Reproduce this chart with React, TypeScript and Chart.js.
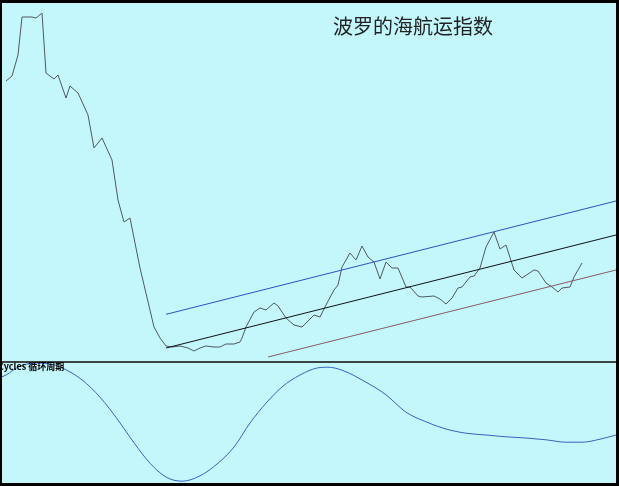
import React, { useEffect, useRef } from "react";
import { Chart, registerables } from "chart.js";

Chart.register(...registerables);

// Baltic index (weeks, index points)
const priceWeeks = [2, 5, 8, 10, 15, 17, 20, 22, 26, 28, 32, 34, 38, 43, 46, 50, 55, 58, 61, 64, 69, 76, 79, 82, 85, 89, 93, 96, 99, 102, 106, 109, 112, 116, 119, 120, 122, 126, 129, 132, 136, 138, 142, 146, 150, 152, 156, 159, 162, 166, 168, 170, 174, 177, 180, 183, 186, 189, 192, 195, 198, 202, 204, 208, 210, 216, 219, 222, 225, 228, 230, 234, 236, 239, 242, 246, 249, 252, 256, 260, 266, 268, 272, 275, 278, 280, 284, 286, 290];
const priceValues = [8400, 8550, 9180, 10320, 10320, 10290, 10440, 8640, 8460, 8580, 7890, 8250, 8040, 7380, 6390, 6690, 6030, 4830, 4170, 4290, 2790, 1020, 690, 450, 420, 450, 390, 300, 390, 450, 420, 420, 510, 510, 570, 690, 1020, 1470, 1590, 1530, 1740, 1650, 1290, 1080, 1020, 1140, 1380, 1320, 1680, 2130, 2280, 2820, 3240, 3030, 3450, 3120, 2970, 2460, 2970, 2790, 2790, 2220, 2220, 1950, 1920, 1950, 1860, 1710, 1890, 2190, 2220, 2520, 2550, 2790, 3420, 3870, 3360, 3480, 2730, 2490, 2730, 2700, 2340, 2220, 2070, 2190, 2220, 2520, 2940];

// Trend channel (start/end week, value)
const channelWeeks = [82, 307];
const upperChannel = [1400, 4800];
const middleChannel = [390, 3780];
const lowerWeeks = [133, 307];
const lowerChannel = [120, 2730];

// Cycles oscillator
const cycleWeeks = [0, 2, 9, 18, 26, 30, 40, 49, 58, 66, 74, 82, 90, 99, 108, 116, 124, 132, 140, 149, 158, 163, 170, 182, 192, 202, 212, 222, 232, 242, 252, 262, 272, 282, 290, 299, 307];
const cycleValues = [77, 80, 95, 100, 97, 92, 72, 43, 5, -33, -67, -90, -97, -88, -67, -40, 0, 33, 60, 80, 92, 93, 88, 68, 47, 18, 2, -10, -17, -20, -23, -25, -28, -32, -32, -27, -20];

const titleText = "波罗的海航运指数";
const cycleLabel = "Cycles 循环周期";

const W = 614;
const TOP_H = 358;
const BOT_H = 120;

const pts = (xs: number[], ys: number[]) => xs.map((x, i) => ({ x, y: ys[i] }));

const baseOptions = (ymin: number, ymax: number): any => ({
  responsive: false,
  maintainAspectRatio: false,
  animation: false,
  events: [],
  layout: { padding: 0 },
  plugins: { legend: { display: false }, tooltip: { enabled: false }, title: { display: false } },
  elements: { point: { radius: 0 }, line: { borderWidth: 1 } },
  scales: {
    x: { type: "linear", min: 0, max: 307, display: false },
    y: { type: "linear", min: ymin, max: ymax, display: false },
  },
});

export default function App() {
  const topRef = useRef<HTMLCanvasElement>(null);
  const botRef = useRef<HTMLCanvasElement>(null);

  useEffect(() => {
    const top = new Chart(topRef.current!, {
      type: "line",
      data: {
        datasets: [
          { data: pts(channelWeeks, upperChannel), borderColor: "#2a52c4", borderWidth: 1, tension: 0 },
          { data: pts(channelWeeks, middleChannel), borderColor: "#111111", borderWidth: 1, tension: 0 },
          { data: pts(lowerWeeks, lowerChannel), borderColor: "#8a5a60", borderWidth: 1, tension: 0 },
          { data: pts(priceWeeks, priceValues), borderColor: "#50585e", borderWidth: 1, tension: 0 },
        ],
      },
      options: baseOptions(0, 10740),
    });
    const bot = new Chart(botRef.current!, {
      type: "line",
      data: {
        datasets: [
          {
            data: pts(cycleWeeks, cycleValues),
            borderColor: "#3a62c0",
            borderWidth: 1,
            cubicInterpolationMode: "monotone",
          },
        ],
      },
      options: baseOptions(-100, 100),
    });
    return () => {
      top.destroy();
      bot.destroy();
    };
  }, []);

  return (
    <div
      style={{
        position: "fixed",
        left: 0,
        top: 0,
        width: 619,
        height: 486,
        boxSizing: "border-box",
        borderStyle: "solid",
        borderColor: "#000",
        borderWidth: "3px 3px 3px 2px",
        background: "#c4f7fc",
        overflow: "hidden",
      }}
    >
      <canvas ref={topRef} width={W} height={TOP_H} style={{ position: "absolute", left: 0, top: 0, width: W, height: TOP_H }} />
      <div style={{ position: "absolute", left: 0, top: TOP_H, width: W, height: 2, background: "#3c4444" }} />
      <canvas ref={botRef} width={W} height={BOT_H} style={{ position: "absolute", left: 0, top: TOP_H + 2, width: W, height: BOT_H }} />
      <div
        style={{
          position: "absolute",
          left: 331,
          top: 12,
          fontFamily: '"Noto Sans CJK SC", sans-serif',
          fontSize: 20,
          lineHeight: "22px",
          color: "#222",
          whiteSpace: "nowrap",
        }}
      >
        {titleText}
      </div>
      <div
        style={{
          position: "absolute",
          left: -4,
          top: TOP_H + 1,
          fontFamily: '"Noto Sans CJK SC", sans-serif',
          fontSize: 9,
          fontWeight: 700,
          lineHeight: "10px",
          color: "#000",
          whiteSpace: "nowrap",
        }}
      >
        {cycleLabel}
      </div>
    </div>
  );
}
